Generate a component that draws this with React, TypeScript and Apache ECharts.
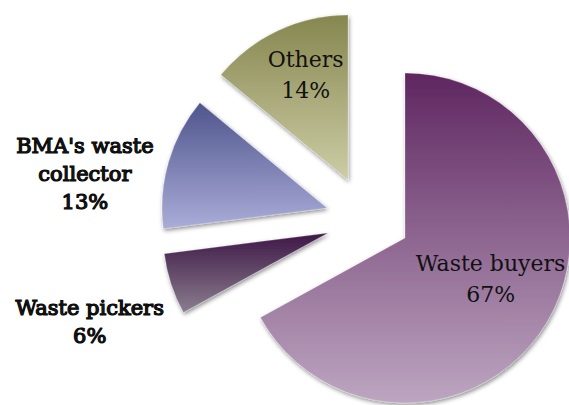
import React, { useEffect, useRef } from 'react';
import * as echarts from 'echarts';

// ---- data ----
const categories = ['Waste buyers', 'Waste pickers', "BMA's waste\ncollector", 'Others'];
const values = [67, 6, 13, 14];

// ---- layout / style (kept apart from the data) ----
const sliceCenters = [
  [405, 238],
  [328, 233],
  [327, 208],
  [348, 180],
];
const sliceRadius = 165;
const gradients = [
  ['#5e2660', '#bda6c1'],
  ['#3e1746', '#8a7e8f'],
  ['#4f558c', '#aaacd8'],
  ['#86864f', '#cdcda6'],
];
const labelInside = [true, false, false, true];
const labelShift = [
  { dx: 12, dy: -3 },
  { dx: -157, dy: 63 },
  { dx: -160, dy: -10 },
  { dx: -6, dy: -28 },
];

export default function App() {
  const ref = useRef<HTMLDivElement>(null);
  useEffect(() => {
    if (!ref.current) return;
    const chart = echarts.init(ref.current, null, { renderer: 'svg' });
    const series = values.map((_, si) => ({
      type: 'pie',
      center: sliceCenters[si],
      radius: [0, sliceRadius],
      startAngle: 90,
      clockwise: true,
      avoidLabelOverlap: false,
      silent: true,
      percentPrecision: 0,
      labelLine: { show: false },
      labelLayout: labelShift[si],
      emphasis: { disabled: true },
      data: categories.map((name, i) => ({
        name,
        value: values[i],
        itemStyle:
          i === si
            ? {
                color: new echarts.graphic.LinearGradient(0, 0, 0, 1, [
                  { offset: 0, color: gradients[si][0] },
                  { offset: 1, color: gradients[si][1] },
                ]),
                shadowBlur: 4,
                shadowOffsetX: 1,
                shadowOffsetY: 2,
                shadowColor: 'rgba(0,0,0,0.45)',
                borderColor: 'rgba(255,255,255,0.25)',
                borderWidth: 1,
              }
            : { color: 'rgba(0,0,0,0)' },
        label:
          i === si
            ? {
                show: true,
                position: 'inside',
                formatter: '{b}\n{d}%',
                color: '#111',
                fontFamily: 'DejaVu Serif',
                fontSize: labelInside[si] ? 22 : 21,
                fontWeight: 'normal',
                lineHeight: labelInside[si] ? 31 : 28,
                textBorderColor: labelInside[si] ? 'transparent' : '#000',
                textBorderWidth: labelInside[si] ? 0 : 1.2,
                align: 'center',
              }
            : { show: false },
      })),
    }));
    chart.setOption({
      animation: false,
      backgroundColor: '#ffffff',
      series,
    } as any);
    return () => chart.dispose();
  }, []);
  return (
    <div
      ref={ref}
      style={{ position: 'absolute', left: 0, top: 0, width: 569, height: 405 }}
    />
  );
}
